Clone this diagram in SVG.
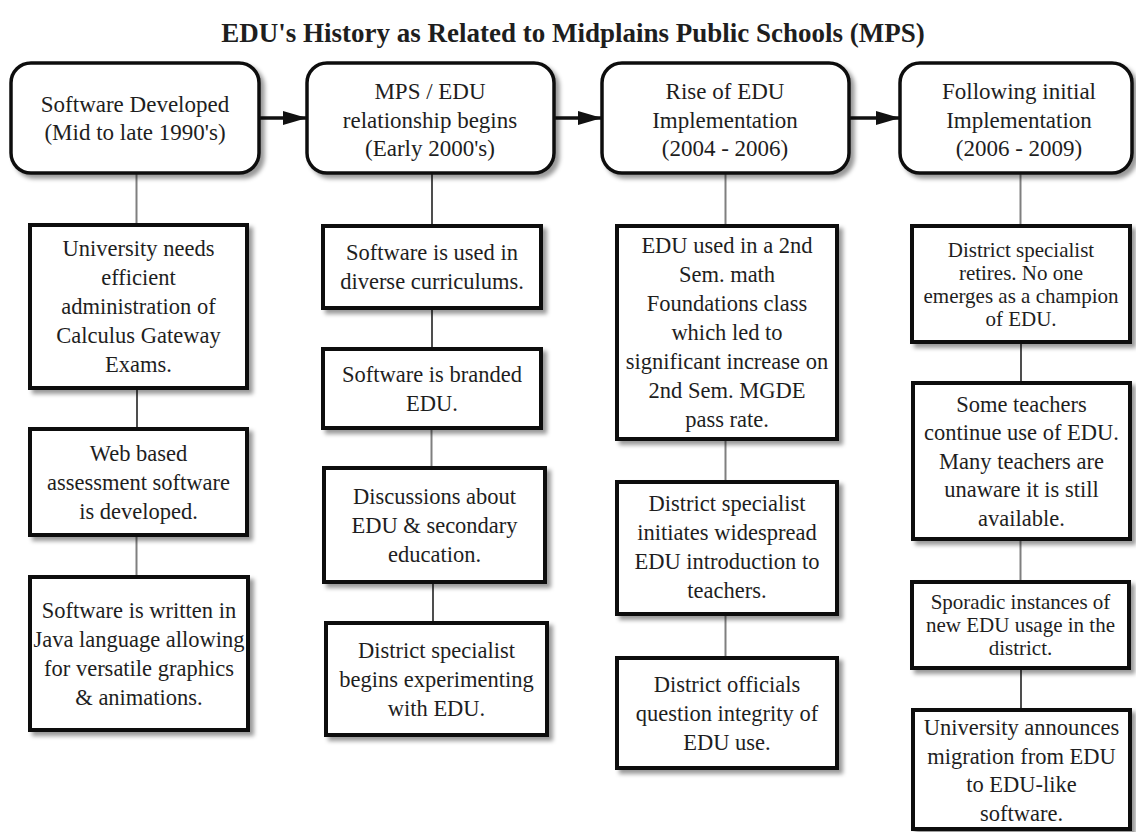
<svg xmlns="http://www.w3.org/2000/svg" width="1136" height="832" viewBox="0 0 1136 832">
  <style>
    text { font-family: "Liberation Serif", "Times New Roman", serif; fill: #1e1e1e; text-anchor: middle; }
    .title { font-size: 27px; font-weight: bold; }
    .phase text { font-size: 23px; }
    .event text { font-size: 22.5px; }
    .event.small text { font-size: 21px; }
    .phase rect { fill: #fff; stroke: #111; stroke-width: 3.5; filter: url(#shadow); }
    .event rect { fill: #fff; stroke: #111; stroke-width: 4; filter: url(#shadow); }
    .link-grey { stroke: #7f7f7f; stroke-width: 2; fill: none; }
    .link-dark { stroke: #222; stroke-width: 1.6; fill: none; }
    .flow { stroke: #111; stroke-width: 3.5; fill: none; marker-end: url(#head); }
  </style>
  <defs>
    <filter id="shadow" x="-10%" y="-10%" width="130%" height="130%">
      <feDropShadow dx="4" dy="4" stdDeviation="2" flood-color="#000" flood-opacity="0.4"/>
    </filter>
    <marker id="head" viewBox="0 0 24 14" refX="24" refY="7" markerWidth="24" markerHeight="14" markerUnits="userSpaceOnUse" orient="auto">
      <path d="M0,0 L24,7 L0,14 Z" fill="#111"/>
    </marker>
  </defs>

  <rect width="1136" height="832" fill="#fff"/>

  <text class="title" x="573" y="42">EDU's History as Related to Midplains Public Schools (MPS)</text>

  <!-- connectors -->
  <g id="connectors">
    <!-- timeline arrows between phases -->
    <line class="flow" x1="259" y1="118" x2="307" y2="118"/>
    <line class="flow" x1="554" y1="118" x2="602" y2="118"/>
    <line class="flow" x1="849" y1="118" x2="900" y2="118"/>
    <!-- column 1 -->
    <line class="link-grey" x1="136.5" y1="173" x2="136.5" y2="225"/>
    <line class="link-dark" x1="137" y1="388" x2="137" y2="429"/>
    <line class="link-grey" x1="136.5" y1="535" x2="136.5" y2="577"/>
    <!-- column 2 -->
    <line class="link-dark" x1="432" y1="173" x2="432" y2="226"/>
    <line class="link-dark" x1="432" y1="308" x2="432" y2="349"/>
    <line class="link-grey" x1="431.5" y1="428" x2="431.5" y2="468"/>
    <line class="link-dark" x1="433" y1="582" x2="433" y2="623"/>
    <!-- column 3 -->
    <line class="link-grey" x1="725.5" y1="173" x2="725.5" y2="226"/>
    <line class="link-grey" x1="725.5" y1="439" x2="725.5" y2="482"/>
    <line class="link-grey" x1="725.5" y1="614" x2="725.5" y2="658"/>
    <!-- column 4 -->
    <line class="link-grey" x1="1020.5" y1="173" x2="1020.5" y2="226"/>
    <line class="link-dark" x1="1021" y1="342" x2="1021" y2="383"/>
    <line class="link-grey" x1="1020.5" y1="539" x2="1020.5" y2="582"/>
    <line class="link-dark" x1="1021" y1="668" x2="1021" y2="710"/>
  </g>

  <!-- phases -->
  <g id="phase-1990s" class="phase">
    <rect x="11" y="63" width="248" height="110" rx="20"/>
    <text x="135" y="112">Software Developed</text>
    <text x="135" y="140">(Mid to late 1990's)</text>
  </g>
  <g id="phase-early-2000s" class="phase">
    <rect x="307" y="63" width="247" height="110" rx="20"/>
    <text x="430" y="99">MPS / EDU</text>
    <text x="430" y="128">relationship begins</text>
    <text x="430" y="156">(Early 2000's)</text>
  </g>
  <g id="phase-2004-2006" class="phase">
    <rect x="602" y="63" width="247" height="110" rx="20"/>
    <text x="725" y="99">Rise of EDU</text>
    <text x="725" y="128">Implementation</text>
    <text x="725" y="156">(2004 - 2006)</text>
  </g>
  <g id="phase-2006-2009" class="phase">
    <rect x="900" y="63" width="232" height="110" rx="20"/>
    <text x="1019" y="99">Following initial</text>
    <text x="1019" y="128">Implementation</text>
    <text x="1019" y="156">(2006 - 2009)</text>
  </g>

  <!-- column 1 events -->
  <g id="calculus-exams" class="event">
    <rect x="30" y="225" width="217" height="163"/>
    <text x="138.5" y="256">University needs</text>
    <text x="138.5" y="285">efficient</text>
    <text x="138.5" y="314">administration of</text>
    <text x="138.5" y="343">Calculus Gateway</text>
    <text x="138.5" y="372">Exams.</text>
  </g>
  <g id="web-assessment" class="event">
    <rect x="30" y="429" width="217" height="106"/>
    <text x="138.5" y="460.5">Web based</text>
    <text x="138.5" y="489.5">assessment software</text>
    <text x="138.5" y="518.5">is developed.</text>
  </g>
  <g id="java-language" class="event">
    <rect x="30" y="577" width="218" height="153"/>
    <text x="139" y="617.5">Software is written in</text>
    <text x="139" y="646.5">Java language allowing</text>
    <text x="139" y="675.5">for versatile graphics</text>
    <text x="139" y="704.5">&amp; animations.</text>
  </g>

  <!-- column 2 events -->
  <g id="diverse-curricula" class="event">
    <rect x="323" y="226" width="218" height="82"/>
    <text x="432" y="260">Software is used in</text>
    <text x="432" y="289">diverse curriculums.</text>
  </g>
  <g id="branded-edu" class="event">
    <rect x="323" y="349" width="218" height="79"/>
    <text x="432" y="381.5">Software is branded</text>
    <text x="432" y="410.5">EDU.</text>
  </g>
  <g id="secondary-discussions" class="event">
    <rect x="324" y="468" width="221" height="114"/>
    <text x="434.5" y="503.5">Discussions about</text>
    <text x="434.5" y="532.5">EDU &amp; secondary</text>
    <text x="434.5" y="561.5">education.</text>
  </g>
  <g id="specialist-experiments" class="event">
    <rect x="326" y="623" width="221" height="112"/>
    <text x="436.5" y="657.5">District specialist</text>
    <text x="436.5" y="686.5">begins experimenting</text>
    <text x="436.5" y="715.5">with EDU.</text>
  </g>

  <!-- column 3 events -->
  <g id="foundations-class" class="event">
    <rect x="617" y="226" width="220" height="213"/>
    <text x="727" y="253">EDU used in a 2nd</text>
    <text x="727" y="282">Sem. math</text>
    <text x="727" y="311">Foundations class</text>
    <text x="727" y="340">which led to</text>
    <text x="727" y="369">significant increase on</text>
    <text x="727" y="398">2nd Sem. MGDE</text>
    <text x="727" y="427">pass rate.</text>
  </g>
  <g id="widespread-introduction" class="event">
    <rect x="617" y="482" width="220" height="132"/>
    <text x="727" y="511">District specialist</text>
    <text x="727" y="540">initiates widespread</text>
    <text x="727" y="569">EDU introduction to</text>
    <text x="727" y="598">teachers.</text>
  </g>
  <g id="integrity-questioned" class="event">
    <rect x="617" y="658" width="220" height="110"/>
    <text x="727" y="691.5">District officials</text>
    <text x="727" y="720.5">question integrity of</text>
    <text x="727" y="749.5">EDU use.</text>
  </g>

  <!-- column 4 events -->
  <g id="specialist-retires" class="event small">
    <rect x="912" y="226" width="218" height="116"/>
    <text x="1021" y="256.5">District specialist</text>
    <text x="1021" y="279.5">retires. No one</text>
    <text x="1021" y="302.5">emerges as a champion</text>
    <text x="1021" y="325.5">of EDU.</text>
  </g>
  <g id="continued-use" class="event">
    <rect x="913" y="383" width="217" height="156"/>
    <text x="1021.5" y="411.5">Some teachers</text>
    <text x="1021.5" y="440">continue use of EDU.</text>
    <text x="1021.5" y="468.5">Many teachers are</text>
    <text x="1021.5" y="497">unaware it is still</text>
    <text x="1021.5" y="525.5">available.</text>
  </g>
  <g id="sporadic-usage" class="event small">
    <rect x="912" y="582" width="217" height="86"/>
    <text x="1020.5" y="609">Sporadic instances of</text>
    <text x="1020.5" y="632">new EDU usage in the</text>
    <text x="1020.5" y="655">district.</text>
  </g>
  <g id="migration-announced" class="event">
    <rect x="913" y="710" width="217" height="119"/>
    <text x="1021.5" y="735">University announces</text>
    <text x="1021.5" y="763.5">migration from EDU</text>
    <text x="1021.5" y="792">to EDU-like</text>
    <text x="1021.5" y="820.5">software.</text>
  </g>
</svg>
